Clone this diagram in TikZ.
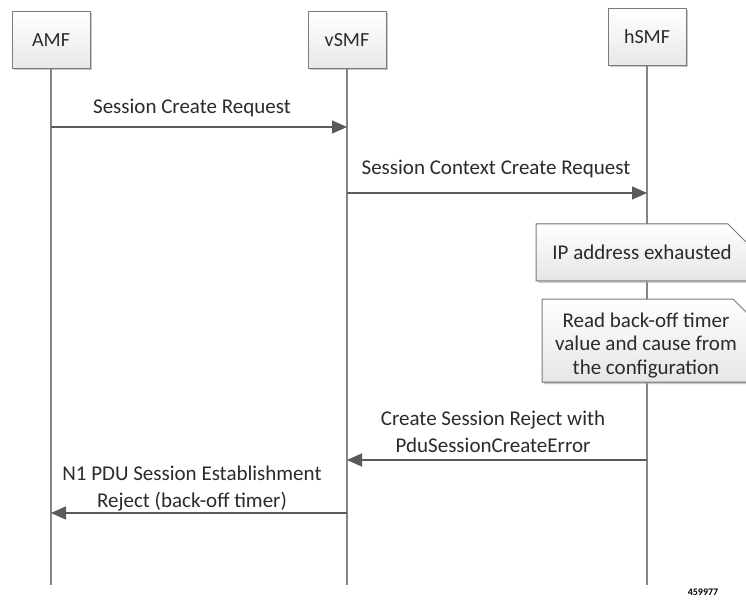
\documentclass[tikz,border=0pt]{standalone}
\usepackage{fontspec}
\setmainfont{Carlito}
\usetikzlibrary{arrows.meta,shadows}
\definecolor{txt}{HTML}{2B2B2B}
\definecolor{linec}{HTML}{5A5A5A}
\definecolor{lifec}{HTML}{858585}
\definecolor{boxb}{HTML}{7A7A7A}
\tikzset{
  actor/.style={draw=boxb, line width=1pt, minimum width=78pt, minimum height=57pt,
    top color=white, bottom color=black!9, text=txt,
    font=\fontsize{20}{24}\selectfont,
    drop shadow={shadow xshift=2pt, shadow yshift=-2pt, fill=black!35, opacity=0.6}},
  lifeline/.style={draw=lifec, line width=1.6pt},
  msg/.style={draw=linec, line width=1.4pt, -{Triangle[length=15pt,width=13pt]}},
  lbl/.style={text=txt, font=\fontsize{21}{26.5}\selectfont, align=center, inner sep=0pt, anchor=base},
  notebox/.style={draw=boxb, line width=1pt, top color=white, bottom color=black!10,
    drop shadow={shadow xshift=2pt, shadow yshift=-2pt, fill=black!35, opacity=0.6}},
  notetext/.style={text=txt, font=\fontsize{21}{23.5}\selectfont, align=center, inner sep=0pt, anchor=base},
}
\begin{document}
\begin{tikzpicture}[x=1pt,y=-1pt]
\useasboundingbox[fill=white] (0,0) rectangle (746,609);

% actors
\node[actor] (amf) at (51,40) {AMF};
\node[actor] (vsmf) at (347,40) {vSMF};
\node[actor] (hsmf) at (647,37) {hSMF};

% lifeline ends
\coordinate (amfend) at (51,585);
\coordinate (vsmfend) at (347,585);
\coordinate (hsmfend) at (647,585);
\draw[lifeline] (amf.south) -- (amfend);
\draw[lifeline] (vsmf.south) -- (vsmfend);
\draw[lifeline] (hsmf.south) -- (hsmfend);

% message end points
\coordinate (a1) at (51,127);  \coordinate (v1) at (347,127);
\coordinate (v2) at (347,193); \coordinate (h2) at (647,193);
\coordinate (h3) at (647,460); \coordinate (v3) at (347,460);
\coordinate (v4) at (347,513); \coordinate (a4) at (51,513);

\draw[msg] (a1) -- (v1);
\node[lbl] (l1) at (192,114) {Session Create Request};

\draw[msg] (v2) -- (h2);
\node[lbl] (l2) at (496,175) {Session Context Create Request};

% notes
\filldraw[notebox] (536,224) -- (728,224) -- (756,252) -- (756,281) -- (536,281) -- cycle;
\node[notetext] (n1) at (642,260) {IP address exhausted};

\filldraw[notebox] (542,299) -- (733,299) -- (756,322) -- (756,382) -- (542,382) -- cycle;
\node[notetext] (n2) at (646,374) {Read back-off timer\\value and cause from\\the configuration};

\draw[msg] (h3) -- (v3);
\node[lbl] (l3) at (493,452) {Create Session Reject with\\PduSessionCreateError};

\draw[msg] (v4) -- (a4);
\node[lbl] (l4) at (192,507) {N1 PDU Session Establishment\\Reject (back-off timer)};

\node[text=black, font=\fontsize{10}{12}\selectfont\bfseries, inner sep=0pt] (fig) at (703,592) {459977};
\end{tikzpicture}
\end{document}
